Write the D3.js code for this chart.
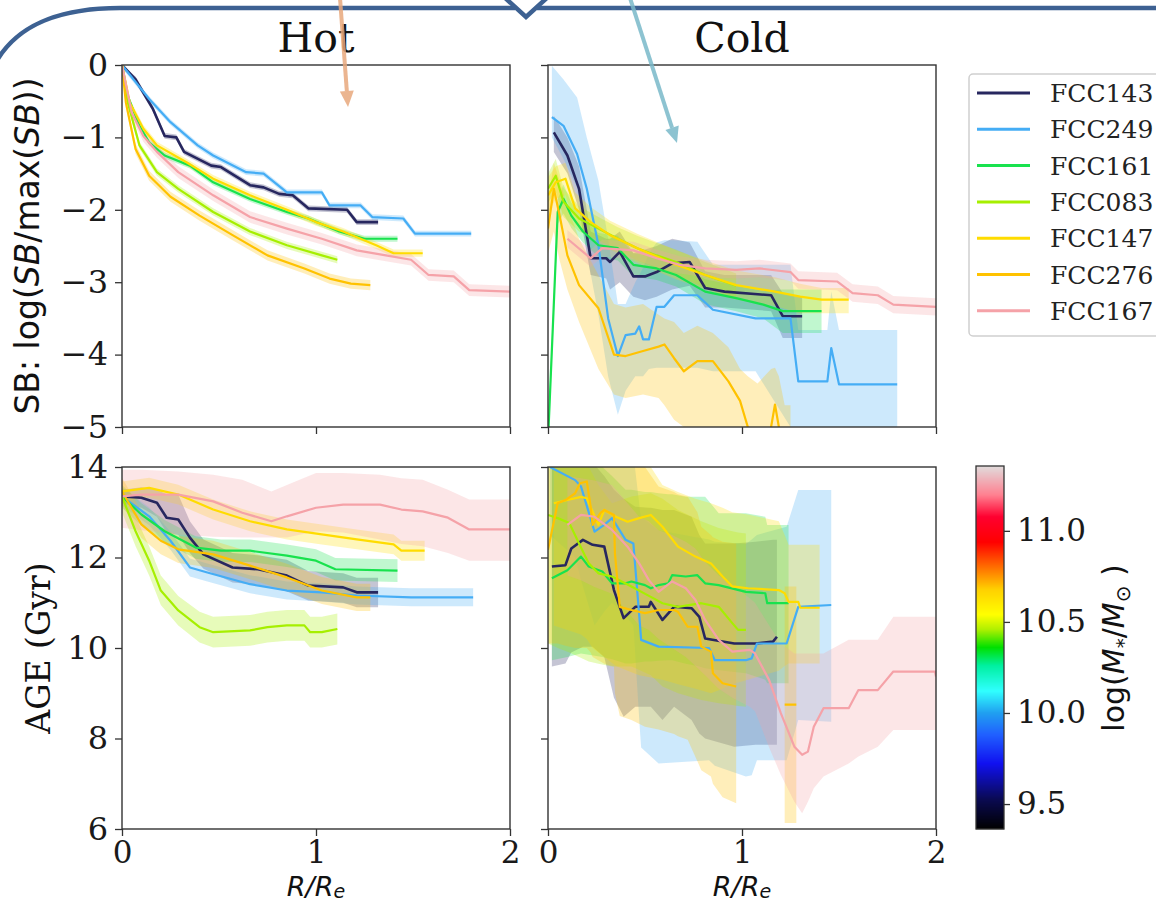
<!DOCTYPE html>
<html>
<head>
<meta charset="utf-8">
<script src="https://cdn.jsdelivr.net/npm/d3@7"></script>
<style>
  body { margin: 0; background: #fff; }
  svg { display: block; }
</style>
</head>
<body>
<svg width="1156" height="904"></svg>
<script>
'use strict'

// galaxies, in legend order
const galaxies = ['FCC143', 'FCC249', 'FCC161', 'FCC083', 'FCC147', 'FCC276', 'FCC167']

// tick values
const sbTicks = [0, -1, -2, -3, -4, -5]
const ageTicks = [14, 12, 10, 8, 6]
const rTicks = [0, 1, 2]
const massTicks = [9.5, 10, 10.5, 11]
const massRange = [9.363, 11.356]

// rows are [R/Re, value, lower, upper]
// ---- Hot, surface brightness
const hotSB143 = [[0,0,-0.04,0],[0.07,-0.2,-0.24,-0.16],[0.16,-0.61,-0.65,-0.57],[0.22,-0.98,-1.02,-0.94],[0.28,-1.0,-1.04,-0.96],[0.32,-1.2,-1.24,-1.16],[0.46,-1.39,-1.43,-1.35],[0.51,-1.41,-1.45,-1.37],[0.66,-1.66,-1.7,-1.62],[0.73,-1.69,-1.73,-1.65],[0.81,-1.78,-1.82,-1.74],[0.88,-1.8,-1.84,-1.76],[0.96,-1.98,-2.02,-1.94],[1.16,-2.0,-2.04,-1.96],[1.21,-2.17,-2.21,-2.13],[1.32,-2.17,-2.21,-2.13]]
const hotSB249 = [[0,0,-0.04,0],[0.14,-0.47,-0.51,-0.43],[0.25,-0.79,-0.83,-0.75],[0.39,-1.11,-1.15,-1.07],[0.47,-1.25,-1.29,-1.21],[0.64,-1.48,-1.52,-1.44],[0.73,-1.5,-1.54,-1.46],[0.85,-1.76,-1.8,-1.72],[1.03,-1.76,-1.8,-1.72],[1.07,-1.94,-1.98,-1.9],[1.23,-1.94,-1.98,-1.9],[1.29,-2.1,-2.14,-2.06],[1.45,-2.12,-2.16,-2.08],[1.51,-2.33,-2.37,-2.29],[1.8,-2.33,-2.37,-2.29]]
const hotSB161 = [[0,0,-0.04,0],[0.03,-0.43,-0.47,-0.39],[0.09,-0.84,-0.88,-0.8],[0.14,-1.07,-1.11,-1.03],[0.22,-1.25,-1.29,-1.21],[0.35,-1.39,-1.43,-1.35],[0.47,-1.62,-1.66,-1.58],[0.66,-1.85,-1.89,-1.81],[0.85,-2.03,-2.07,-1.99],[0.96,-2.12,-2.16,-2.08],[1.12,-2.3,-2.34,-2.26],[1.25,-2.4,-2.44,-2.36],[1.42,-2.4,-2.44,-2.36]]
const hotSB083 = [[0,0,-0.05,0],[0.03,-0.52,-0.57,-0.47],[0.09,-1.11,-1.16,-1.06],[0.18,-1.48,-1.53,-1.43],[0.29,-1.71,-1.76,-1.66],[0.47,-2.03,-2.08,-1.98],[0.66,-2.3,-2.35,-2.25],[0.85,-2.49,-2.54,-2.44],[1.03,-2.63,-2.68,-2.58],[1.11,-2.69,-2.74,-2.64]]
const hotSB147 = [[0,0,-0.05,0],[0.04,-0.52,-0.57,-0.47],[0.11,-0.88,-0.93,-0.83],[0.18,-1.11,-1.16,-1.06],[0.33,-1.34,-1.39,-1.29],[0.47,-1.57,-1.62,-1.52],[0.66,-1.8,-1.85,-1.75],[0.85,-2.0,-2.05,-1.95],[1.0,-2.17,-2.22,-2.12],[1.14,-2.3,-2.35,-2.25],[1.31,-2.49,-2.54,-2.44],[1.4,-2.6,-2.65,-2.55],[1.55,-2.6,-2.65,-2.55]]
const hotSB276 = [[0,0,-0.07,0],[0.02,-0.52,-0.59,-0.45],[0.07,-1.16,-1.23,-1.09],[0.14,-1.53,-1.6,-1.46],[0.25,-1.82,-1.89,-1.75],[0.4,-2.08,-2.15,-2.01],[0.57,-2.35,-2.42,-2.28],[0.75,-2.63,-2.7,-2.56],[0.94,-2.81,-2.88,-2.74],[1.07,-2.95,-3.02,-2.88],[1.18,-3.02,-3.09,-2.95],[1.28,-3.04,-3.11,-2.97]]
const hotSB167 = [[0,0,-0.08,0],[0.05,-0.66,-0.74,-0.58],[0.11,-0.98,-1.06,-0.9],[0.18,-1.2,-1.28,-1.12],[0.29,-1.48,-1.56,-1.4],[0.47,-1.8,-1.88,-1.72],[0.66,-2.1,-2.18,-2.02],[0.85,-2.26,-2.34,-2.18],[1.03,-2.4,-2.48,-2.32],[1.21,-2.56,-2.64,-2.48],[1.36,-2.63,-2.71,-2.55],[1.49,-2.69,-2.77,-2.61],[1.58,-2.9,-2.98,-2.82],[1.71,-2.92,-3.0,-2.84],[1.79,-3.11,-3.19,-3.03],[2.0,-3.13,-3.21,-3.05]]

// ---- Cold, surface brightness
const coldSB143 = [[0.03,-0.93,-1.2,-0.7],[0.1,-1.25,-1.5,-1.0],[0.16,-1.71,-2.0,-1.4],[0.22,-2.67,-2.9,-2.3],[0.3,-2.67,-2.95,-2.4],[0.32,-2.72,-3.1,-2.4],[0.37,-2.58,-3.0,-2.3],[0.44,-2.92,-3.2,-2.6],[0.5,-2.92,-3.25,-2.55],[0.56,-2.86,-3.2,-2.5],[0.64,-2.74,-3.1,-2.4],[0.73,-2.72,-3.05,-2.45],[0.81,-3.08,-3.35,-2.85],[0.91,-3.13,-3.35,-2.9],[1.15,-3.18,-3.4,-2.9],[1.21,-3.47,-3.77,-3.15],[1.31,-3.47,-3.77,-3.2]]
const coldSB249 = [[0.02,-0.72,-1.0,-0.01],[0.08,-0.84,-1.3,-0.2],[0.15,-1.23,-1.7,-0.45],[0.2,-1.71,-2.6,-1.0],[0.26,-2.49,-3.45,-1.6],[0.31,-3.5,-4.3,-2.4],[0.36,-4.02,-4.83,-3.3],[0.4,-3.73,-4.5,-3.3],[0.45,-3.71,-4.3,-3.0],[0.47,-3.61,-4.3,-2.9],[0.49,-3.79,-4.3,-2.8],[0.52,-3.79,-4.2,-2.6],[0.56,-3.34,-4.18,-2.45],[0.6,-3.34,-4.18,-2.42],[0.65,-3.18,-4.18,-2.42],[0.77,-3.18,-4.18,-2.44],[0.85,-3.38,-4.23,-2.76],[1.07,-3.5,-4.23,-2.76],[1.25,-3.5,-5.0,-2.76],[1.29,-4.37,-5.5,-3.66],[1.44,-4.37,-5.5,-3.66],[1.46,-3.91,-5.5,-3.13],[1.5,-4.41,-5.5,-3.66],[1.8,-4.41,-5.5,-3.66]]
const coldSB161 = [[0,-5.2,-5.4,-5.0],[0.05,-2.03,-2.2,-1.85],[0.08,-1.85,-2.05,-1.65],[0.12,-2.08,-2.25,-1.9],[0.18,-2.3,-2.45,-2.12],[0.26,-2.49,-2.65,-2.32],[0.36,-2.53,-2.7,-2.36],[0.44,-2.76,-2.92,-2.6],[0.56,-2.81,-2.97,-2.65],[0.66,-2.9,-3.06,-2.74],[0.81,-3.13,-3.3,-2.96],[0.97,-3.22,-3.4,-3.05],[1.11,-3.31,-3.5,-3.12],[1.21,-3.4,-3.7,-3.1],[1.41,-3.4,-3.7,-3.1]]
const coldSB083 = [[0,-1.71,-1.9,-1.5],[0.04,-1.53,-1.75,-1.3],[0.08,-1.89,-2.1,-1.7],[0.16,-2.12,-2.3,-1.95],[0.26,-2.26,-2.42,-2.1],[0.36,-2.4,-2.56,-2.24],[0.46,-2.53,-2.7,-2.36],[0.56,-2.63,-2.8,-2.46],[0.66,-2.72,-2.9,-2.55],[0.81,-2.9,-3.08,-2.72],[0.97,-3.05,-3.22,-2.88]]
const coldSB147 = [[0,-1.8,-2.05,-1.55],[0.04,-1.62,-1.85,-1.4],[0.09,-1.57,-1.8,-1.35],[0.14,-1.98,-2.2,-1.76],[0.22,-2.17,-2.38,-1.96],[0.32,-2.35,-2.55,-2.15],[0.46,-2.53,-2.73,-2.33],[0.66,-2.76,-2.96,-2.56],[0.81,-2.9,-3.1,-2.7],[0.97,-3.04,-3.24,-2.84],[1.17,-3.13,-3.33,-2.93],[1.3,-3.2,-3.43,-3.02],[1.41,-3.24,-3.43,-3.08],[1.55,-3.24,-3.43,-3.08]]
const coldSB276 = [[0,-2.26,-2.6,-1.9],[0.03,-1.71,-2.3,-1.35],[0.06,-2.08,-2.7,-1.6],[0.1,-2.63,-3.1,-1.95],[0.16,-3.04,-3.55,-2.4],[0.26,-3.36,-4.2,-2.9],[0.34,-4.0,-4.55,-3.3],[0.4,-4.02,-4.6,-3.35],[0.49,-3.95,-4.55,-3.3],[0.57,-3.89,-4.6,-3.45],[0.6,-3.86,-4.7,-3.5],[0.65,-4.05,-4.9,-3.55],[0.7,-4.23,-5.0,-3.7],[0.77,-4.09,-5.3,-3.6],[0.85,-4.09,-5.5,-3.7],[0.93,-4.37,-5.5,-3.9],[0.99,-4.64,-5.5,-4.2],[1.03,-5.0,-5.5,-4.3],[1.08,-5.5,-5.5,-4.4],[1.15,-5.0,-5.5,-4.2],[1.17,-4.69,-5.5,-4.18],[1.19,-5.0,-5.5,-4.3],[1.22,-5.5,-5.5,-4.7],[1.25,-5.5,-5.5,-4.7]]
const coldSB167 = [[0.1,-2.4,-2.52,-2.28],[0.22,-2.67,-2.79,-2.55],[0.28,-2.53,-2.65,-2.41],[0.44,-2.56,-2.68,-2.44],[0.56,-2.67,-2.79,-2.55],[0.68,-2.76,-2.88,-2.64],[0.81,-2.81,-2.93,-2.69],[0.97,-2.83,-2.95,-2.71],[1.09,-2.81,-2.93,-2.69],[1.25,-2.86,-2.98,-2.74],[1.29,-2.97,-3.09,-2.85],[1.49,-2.99,-3.11,-2.87],[1.57,-3.15,-3.27,-3.03],[1.7,-3.18,-3.3,-3.06],[1.78,-3.31,-3.43,-3.19],[2.0,-3.34,-3.46,-3.22]]

// ---- Hot, age (Gyr)
const hotAge143 = [[0,13.35,13.2,13.5],[0.1,13.32,13.1,13.55],[0.18,13.21,12.9,13.5],[0.23,12.88,12.55,13.4],[0.29,12.84,12.5,13.39],[0.35,12.44,12.1,12.8],[0.42,12.07,11.75,12.4],[0.57,11.78,11.45,12.1],[0.7,11.74,11.4,12.05],[0.85,11.6,11.25,11.95],[0.96,11.38,11.05,11.7],[1.14,11.34,11.0,11.65],[1.21,11.23,10.9,11.55],[1.32,11.23,10.9,11.55]]
const hotAge249 = [[0,13.35,13.15,13.55],[0.14,12.91,12.71,13.11],[0.25,12.37,12.17,12.57],[0.35,11.78,11.58,11.98],[0.44,11.67,11.47,11.87],[0.66,11.41,11.21,11.61],[0.85,11.27,11.07,11.47],[1.03,11.23,11.03,11.43],[1.21,11.16,10.96,11.36],[1.49,11.12,10.92,11.32],[1.81,11.12,10.92,11.32]]
const hotAge161 = [[0,13.35,13.1,13.6],[0.1,12.95,12.7,13.2],[0.22,12.58,12.33,12.83],[0.38,12.22,11.97,12.47],[0.51,12.15,11.9,12.4],[0.66,12.15,11.9,12.4],[0.85,12.04,11.79,12.29],[1.0,11.93,11.68,12.18],[1.1,11.74,11.49,11.99],[1.42,11.71,11.46,11.96]]
const hotAge083 = [[0,13.35,13.0,13.6],[0.07,12.58,12.25,12.9],[0.14,11.93,11.6,12.25],[0.2,11.27,10.95,11.6],[0.29,10.83,10.5,11.15],[0.4,10.46,10.12,10.8],[0.47,10.35,10.01,10.69],[0.66,10.39,10.05,10.73],[0.75,10.46,10.12,10.8],[0.85,10.5,10.16,10.84],[0.94,10.5,10.16,10.84],[0.97,10.35,10.01,10.69],[1.03,10.35,10.01,10.69],[1.11,10.42,10.08,10.76]]
const hotAge147 = [[0,13.46,13.24,13.68],[0.14,13.54,13.32,13.76],[0.29,13.39,13.17,13.61],[0.47,13.06,12.84,13.28],[0.66,12.8,12.58,13.02],[0.85,12.62,12.4,12.84],[1.03,12.51,12.29,12.73],[1.21,12.4,12.18,12.62],[1.4,12.29,12.07,12.51],[1.44,12.15,11.93,12.37],[1.56,12.15,11.93,12.37]]
const hotAge276 = [[0,13.46,13.16,13.76],[0.1,12.73,12.43,13.03],[0.2,12.37,12.07,12.67],[0.29,12.18,11.88,12.48],[0.47,12.07,11.77,12.37],[0.66,11.82,11.52,12.12],[0.85,11.56,11.26,11.86],[1.03,11.27,10.97,11.57],[1.21,11.12,10.82,11.42],[1.28,11.12,10.82,11.42]]
const hotAge167 = [[0,13.35,12.66,13.94],[0.1,13.39,12.6,13.94],[0.29,13.39,12.51,13.9],[0.47,13.24,12.46,13.83],[0.62,12.99,12.44,13.72],[0.77,12.8,12.44,13.46],[0.85,12.91,12.44,13.6],[1.0,13.1,12.58,13.87],[1.14,13.17,12.55,13.87],[1.33,13.17,12.4,13.83],[1.44,13.06,12.3,13.75],[1.55,13.02,12.25,13.72],[1.68,12.88,12.1,13.5],[1.79,12.62,11.93,13.28],[2.0,12.62,11.93,13.28]]

// ---- Cold, age (Gyr)
const coldAge143 = [[0.02,11.8,9.59,14.2],[0.09,11.83,9.66,14.2],[0.12,12.2,9.9,14.2],[0.18,12.39,10.03,14.2],[0.23,12.28,10.03,14.1],[0.29,12.24,9.8,13.8],[0.34,11.28,8.9,13.5],[0.39,10.66,8.48,13.3],[0.45,10.91,8.7,13.12],[0.52,10.91,8.7,13.1],[0.53,11.02,8.7,13.1],[0.59,10.62,8.41,13.05],[0.65,10.91,8.7,13.05],[0.74,10.88,8.41,12.9],[0.78,10.69,8.11,12.5],[0.81,10.21,8.0,12.31],[0.96,10.1,7.82,12.31],[1.07,10.1,7.86,12.35],[1.16,10.14,7.86,12.39],[1.18,10.25,7.86,12.39]]
const coldAge249 = [[0.01,14.0,12.5,14.3],[0.14,13.71,12.0,14.3],[0.17,13.57,11.5,14.3],[0.24,12.57,10.5,14.3],[0.29,12.72,10.8,14.3],[0.33,12.87,11.0,14.3],[0.4,12.39,10.7,14.3],[0.44,12.31,10.5,14.3],[0.475,10.47,8.11,13.0],[0.48,10.18,7.8,12.9],[0.57,10.03,7.45,12.6],[0.83,10.0,7.52,12.4],[0.86,9.73,7.4,12.35],[1.02,9.73,7.16,12.3],[1.05,9.77,7.19,12.4],[1.077,10.1,7.52,12.5],[1.23,10.1,7.52,12.68],[1.29,10.91,8.41,13.49],[1.46,10.95,8.37,13.49]]
const coldAge161 = [[0.02,11.54,9.73,14.2],[0.1,11.72,9.8,14.2],[0.17,12.02,9.88,14.2],[0.21,11.8,9.85,14.1],[0.28,11.69,9.8,14.0],[0.33,11.43,9.75,13.8],[0.4,11.43,9.66,13.5],[0.43,11.47,9.66,13.5],[0.5,11.39,9.7,13.45],[0.53,11.32,9.7,13.45],[0.57,11.39,9.72,13.42],[0.62,11.43,9.73,13.4],[0.64,11.61,9.73,13.4],[0.71,11.58,9.65,13.34],[0.77,11.61,9.6,13.34],[0.81,11.43,9.55,13.34],[0.88,11.39,9.51,12.98],[1.02,11.24,9.44,12.98],[1.12,11.21,9.3,12.9],[1.13,10.99,9.22,12.72],[1.24,10.99,9.22,12.72]]
const coldAge083 = [[0.0,12.94,10.1,14.2],[0.05,12.87,10.0,14.2],[0.11,12.76,9.9,14.2],[0.16,12.31,9.8,14.1],[0.21,11.87,9.7,14.0],[0.26,11.65,9.65,13.6],[0.33,11.58,9.59,13.2],[0.43,11.36,9.59,13.35],[0.53,11.13,9.4,13.42],[0.59,10.99,9.15,13.3],[0.67,10.91,9.0,13.05],[0.79,10.99,8.85,12.8],[0.88,10.91,8.78,12.65],[0.95,10.55,8.74,12.58],[0.98,10.4,8.72,12.55],[1.02,10.4,8.7,12.53]]
const coldAge147 = [[0.03,13.2,10.5,14.3],[0.1,13.27,10.4,14.3],[0.17,13.34,10.3,14.3],[0.2,13.31,10.2,14.3],[0.23,13.01,10.0,14.3],[0.26,12.72,9.9,14.3],[0.29,13.05,9.8,14.3],[0.35,12.9,9.6,14.3],[0.41,12.79,9.5,14.3],[0.47,12.87,9.4,14.3],[0.53,12.94,9.35,14.0],[0.59,12.68,9.3,13.6],[0.67,12.24,9.2,13.45],[0.76,12.02,9.1,13.3],[0.84,11.87,9.0,13.2],[0.9,11.58,9.1,13.1],[0.95,11.36,9.2,13.0],[1.03,11.32,9.3,12.95],[1.19,11.28,9.5,12.8],[1.22,11.21,9.6,12.5],[1.24,11.02,9.66,12.28],[1.29,11.02,9.66,12.28],[1.3,10.89,9.66,12.28],[1.4,10.89,9.66,12.28]]
const coldAge276 = [[0.0,12.17,10.1,14.3],[0.05,13.2,10.1,14.3],[0.09,13.27,10.05,14.3],[0.14,13.42,10.0,14.3],[0.165,13.64,10.0,14.3],[0.2,13.68,10.0,14.3],[0.22,13.12,9.9,14.3],[0.23,12.72,9.8,14.3],[0.27,12.98,9.7,14.3],[0.29,13.05,9.65,14.3],[0.34,12.94,9.59,14.3],[0.345,12.09,9.0,14.3],[0.37,10.91,8.5,14.3],[0.43,10.84,8.41,14.3],[0.5,10.77,8.26,14.0],[0.57,10.84,8.2,13.57],[0.65,10.84,8.1,13.45],[0.67,10.8,8.05,13.4],[0.72,10.47,7.97,13.34],[0.77,10.47,7.5,13.0],[0.79,10.03,7.3,12.68],[0.84,9.92,7.16,12.5],[0.85,9.44,7.0,12.45],[0.9,9.22,6.7,12.35],[0.97,9.15,6.57,12.31],[1.1,null,null,null],[1.22,8.75,6.13,11.36],[1.28,8.75,6.13,11.36]]
const coldAge167 = [[0.1,12.72,11.6,13.8],[0.17,12.94,11.5,13.75],[0.24,12.9,11.35,13.7],[0.33,12.61,11.2,13.6],[0.41,12.24,10.8,13.2],[0.47,11.87,10.5,12.9],[0.52,11.5,10.4,12.8],[0.57,11.24,10.2,12.6],[0.64,11.47,10.0,12.5],[0.71,11.32,9.8,12.35],[0.76,11.06,9.6,12.2],[0.81,10.62,9.4,11.9],[0.88,10.18,9.1,11.6],[0.95,9.92,8.9,11.4],[1.04,9.96,8.7,11.1],[1.067,9.88,8.6,11.0],[1.14,9.29,7.8,10.5],[1.2,8.56,7.2,10.1],[1.27,7.82,6.6,9.88],[1.31,7.64,6.35,9.88],[1.34,7.71,6.6,9.88],[1.37,8.26,6.9,9.88],[1.42,8.67,7.16,9.88],[1.55,8.67,7.45,10.18],[1.6,9.07,7.6,10.18],[1.7,9.07,7.82,10.18],[1.78,9.48,8.19,10.69],[1.995,9.48,8.19,10.69],[2.0,9.37,8.19,10.69]]

const hotSB = [hotSB143, hotSB249, hotSB161, hotSB083, hotSB147, hotSB276, hotSB167]
const coldSB = [coldSB143, coldSB249, coldSB161, coldSB083, coldSB147, coldSB276, coldSB167]
const hotAge = [hotAge143, hotAge249, hotAge161, hotAge083, hotAge147, hotAge276, hotAge167]
const coldAge = [coldAge143, coldAge249, coldAge161, coldAge083, coldAge147, coldAge276, coldAge167]

// colours
const lineColors = ['#27275f', '#45adf5', '#18e24e', '#a6ef00', '#ffdc00', '#ffc200', '#f5a2a8']
const cmapStops = [0, 0.08, 0.18, 0.26, 0.32, 0.38, 0.45, 0.5, 0.55, 0.59, 0.66, 0.73, 0.79, 0.86, 0.92, 1]
const cmapColors = ['#000000', '#0a0a50', '#1010f0', '#2060ff', '#20a0f0', '#30ffff', '#00f0a0', '#00e000',
  '#b0f000', '#ffff00', '#ffd000', '#ff6000', '#ff0000', '#ff0030', '#ff8090', '#e0dcdc']

const serif = 'DejaVu Serif'
const sans = 'DejaVu Sans'

const svg = d3.select('svg')

const W = 388, H = 362

const x = d3.scaleLinear().domain([0, 2]).range([0, W])
const ySB = d3.scaleLinear().domain([-5, 0]).range([H, 0])
const yAge = d3.scaleLinear().domain([6, 14]).range([H, 0])

const panels = [
  { left: 122, top: 65, y: ySB, ticks: sbTicks, data: hotSB, yLabels: true, xLabels: false },
  { left: 548, top: 65, y: ySB, ticks: sbTicks, data: coldSB, yLabels: false, xLabels: false },
  { left: 122, top: 467, y: yAge, ticks: ageTicks, data: hotAge, yLabels: true, xLabels: true },
  { left: 548, top: 467, y: yAge, ticks: ageTicks, data: coldAge, yLabels: false, xLabels: true }
]

function styleAxis(sel, size) {
  sel.select('.domain').remove()
  sel.selectAll('.tick line').attr('stroke', '#333').attr('stroke-width', 1.3)
  sel.selectAll('.tick text')
    .attr('font-family', serif)
    .attr('font-size', size)
    .attr('fill', '#1a1a1a')
}

panels.forEach((p, pi) => {
  const g = svg.append('g').attr('transform', 'translate(' + p.left + ',' + p.top + ')')

  g.append('clipPath').attr('id', 'clip' + pi)
    .append('rect').attr('width', W).attr('height', H)

  const plot = g.append('g').attr('clip-path', 'url(#clip' + pi + ')')

  const band = d3.area()
    .defined(d => d[2] != null)
    .x(d => x(d[0]))
    .y0(d => p.y(d[2]))
    .y1(d => p.y(d[3]))

  const line = d3.line()
    .defined(d => d[1] != null)
    .x(d => x(d[0]))
    .y(d => p.y(d[1]))

  // shaded bands first, lines on top
  p.data.forEach((rows, i) => {
    plot.append('path')
      .attr('d', band(rows))
      .attr('fill', lineColors[i])
      .attr('fill-opacity', 0.27)
  })
  p.data.forEach((rows, i) => {
    plot.append('path')
      .attr('d', line(rows))
      .attr('fill', 'none')
      .attr('stroke', lineColors[i])
      .attr('stroke-width', i === 0 ? 2.6 : 2.2)
      .attr('stroke-linejoin', 'round')
  })

  // y axis
  const yAxis = d3.axisLeft(p.y).tickValues(p.ticks).tickSize(7).tickPadding(7)
    .tickFormat(p.yLabels ? d3.format('d') : () => '')
  g.append('g').call(yAxis).call(s => styleAxis(s, 32))

  // x axis
  const xAxis = d3.axisBottom(x).tickValues(rTicks).tickSize(7).tickPadding(5)
    .tickFormat(p.xLabels ? d3.format('d') : () => '')
  g.append('g').attr('transform', 'translate(0,' + H + ')').call(xAxis).call(s => styleAxis(s, 31))

  // frame
  g.append('rect')
    .attr('width', W).attr('height', H)
    .attr('fill', 'none').attr('stroke', '#333').attr('stroke-width', 1.4)
})

// titles
svg.append('text').attr('x', 316).attr('y', 52).attr('text-anchor', 'middle')
  .attr('font-family', serif).attr('font-size', 41).attr('fill', '#111').text('Hot')
svg.append('text').attr('x', 742).attr('y', 52).attr('text-anchor', 'middle')
  .attr('font-family', serif).attr('font-size', 41).attr('fill', '#111').text('Cold')

// y label, SB
const sbLabel = svg.append('text')
  .attr('transform', 'translate(39,246) rotate(-90)')
  .attr('text-anchor', 'middle')
  .attr('font-family', sans).attr('font-size', 33).attr('fill', '#111')
sbLabel.append('tspan').text('SB: log(')
sbLabel.append('tspan').attr('font-style', 'italic').text('SB')
sbLabel.append('tspan').text('/max(')
sbLabel.append('tspan').attr('font-style', 'italic').text('SB')
sbLabel.append('tspan').text('))')

// y label, age
svg.append('text')
  .attr('transform', 'translate(50,648) rotate(-90)')
  .attr('text-anchor', 'middle')
  .attr('font-family', serif).attr('font-size', 33).attr('fill', '#111')
  .text('AGE (Gyr)')

// x labels
;[316, 742].forEach(cx => {
  const t = svg.append('text').attr('x', cx).attr('y', 896).attr('text-anchor', 'middle')
    .attr('font-family', sans).attr('font-size', 27).attr('font-style', 'italic').attr('fill', '#111')
  t.append('tspan').text('R/R')
  t.append('tspan').attr('dy', 2).attr('font-size', 19).text('e')
})

// legend
const legend = svg.append('g')
legend.append('rect')
  .attr('x', 969).attr('y', 74).attr('width', 200).attr('height', 262).attr('rx', 4)
  .attr('fill', '#fff').attr('stroke', '#cfcfcf').attr('stroke-width', 1.5)
galaxies.forEach((name, i) => {
  const ly = 93 + i * 36.3
  legend.append('line')
    .attr('x1', 977).attr('x2', 1030).attr('y1', ly).attr('y2', ly)
    .attr('stroke', lineColors[i]).attr('stroke-width', 3)
  legend.append('text')
    .attr('x', 1050).attr('y', ly).attr('dy', '0.36em')
    .attr('font-family', serif).attr('font-size', 25).attr('fill', '#222')
    .text(name)
})

// colour bar
const cbW = 28, cbH = 363
const cb = svg.append('g').attr('transform', 'translate(976,466)')
const cbScale = d3.scaleLinear().domain(massRange).range([cbH, 0])
const cmap = d3.scaleLinear().domain(cmapStops).range(cmapColors).interpolate(d3.interpolateRgb)
cb.selectAll('rect.cell')
  .data(d3.range(cbH))
  .enter()
  .append('rect')
  .attr('class', 'cell')
  .attr('x', 0)
  .attr('y', d => d)
  .attr('width', cbW)
  .attr('height', 1.2)
  .attr('fill', d => cmap(1 - (d + 0.5) / cbH))
cb.append('rect').attr('width', cbW).attr('height', cbH)
  .attr('fill', 'none').attr('stroke', '#333').attr('stroke-width', 1.3)
cb.append('g').attr('transform', 'translate(' + cbW + ',0)')
  .call(d3.axisRight(cbScale).tickValues(massTicks).tickSize(6).tickPadding(7).tickFormat(d3.format('.1f')))
  .call(s => styleAxis(s, 31))

const cbLabel = svg.append('text')
  .attr('transform', 'translate(1124,648) rotate(-90)')
  .attr('text-anchor', 'middle')
  .attr('font-family', sans).attr('font-size', 30).attr('fill', '#111')
cbLabel.append('tspan').text('log(')
cbLabel.append('tspan').attr('font-style', 'italic').text('M')
cbLabel.append('tspan').attr('dy', 6).attr('font-size', 20).text('*')
cbLabel.append('tspan').attr('dy', -6).text('/')
cbLabel.append('tspan').attr('font-style', 'italic').text('M')
cbLabel.append('tspan').attr('dy', 6).attr('font-size', 20).text('\u2299')
cbLabel.append('tspan').attr('dy', -6).text(' )')

// slide decorations: frame line with notch, and two pointer arrows
const deco = svg.append('g').attr('fill', 'none').attr('stroke-linecap', 'butt')
deco.append('path')
  .attr('d', 'M-4,62 C18,24 60,8 120,8 L515,8 M537,8 L1160,8')
  .attr('stroke', '#3d6192').attr('stroke-width', 4.5)
deco.append('path')
  .attr('d', 'M503,-4 L526,17 L549,-4')
  .attr('stroke', '#3d6192').attr('stroke-width', 4.5).attr('stroke-linejoin', 'miter')

function arrow(x1, y1, x2, y2, color) {
  const a = Math.atan2(y2 - y1, x2 - x1)
  const len = 16, half = 7
  const bx = x2 - len * Math.cos(a), by = y2 - len * Math.sin(a)
  deco.append('line')
    .attr('x1', x1).attr('y1', y1).attr('x2', bx).attr('y2', by)
    .attr('stroke', color).attr('stroke-width', 4).attr('stroke-opacity', 0.85)
  deco.append('path')
    .attr('d', 'M' + x2 + ',' + y2 +
      ' L' + (bx + half * Math.sin(a)) + ',' + (by - half * Math.cos(a)) +
      ' L' + (bx - half * Math.sin(a)) + ',' + (by + half * Math.cos(a)) + 'Z')
    .attr('fill', color).attr('fill-opacity', 0.85)
}
arrow(340, -2, 348, 107, '#e8a87c')
arrow(630, -2, 677, 143, '#79b8c9')
</script>
</body>
</html>
